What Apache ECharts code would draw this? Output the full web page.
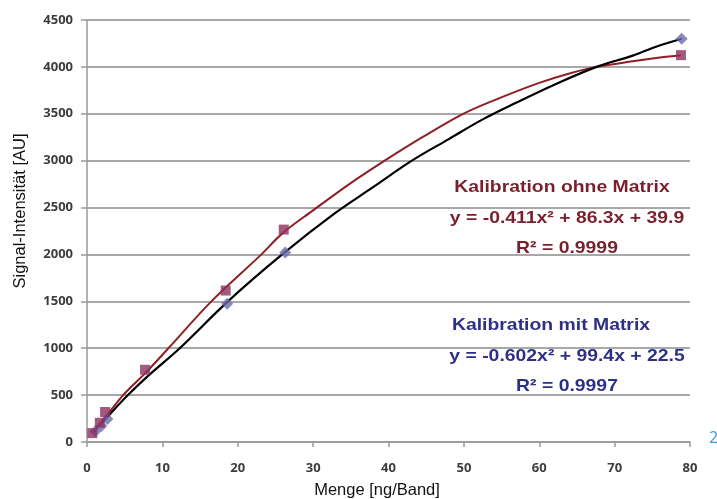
<!DOCTYPE html>
<html>
<head>
<meta charset="utf-8">
<script src="https://cdn.jsdelivr.net/npm/echarts@6/dist/echarts.min.js"></script>
<style>
  html, body { margin: 0; padding: 0; background: #ffffff; }
  #chart { width: 717px; height: 499px; }
</style>
</head>
<body>
<div id="chart"></div>
<script>
// Calibration curves: amount (ng/band) vs. signal intensity (AU)
const yTicks = [0, 500, 1000, 1500, 2000, 2500, 3000, 3500, 4000, 4500];
const xTicks = [0, 10, 20, 30, 40, 50, 60, 70, 80];

// Measured standards without matrix (squares)
const ohneMengen  = [0.7, 1.7, 2.4, 7.7, 18.4, 26.1, 78.8];
const ohneSignale = [95, 205, 320, 770, 1615, 2265, 4125];

// Measured standards with matrix (diamonds)
const mitMengen  = [1.1, 1.9, 2.7, 18.6, 26.3, 78.9];
const mitSignale = [115, 170, 245, 1475, 2020, 4300];

// Fitted calibration curve, red trace
const rotMengen  = [0.8, 2.5, 4.8, 7.8, 10.8, 16.5, 23.0, 26.0, 30.0, 34.8, 39.5, 44.5, 49.9, 54.8, 60.0, 64.0, 67.6, 72.4, 76.0, 78.8];
const rotSignale = [100, 270, 500, 740, 1000, 1500, 1990, 2230, 2470, 2750, 3000, 3250, 3500, 3670, 3830, 3930, 4000, 4060, 4100, 4125];

// Fitted calibration curve, black trace
const schwarzMengen  = [0.9, 2.5, 5.3, 8.1, 12.3, 18.7, 25.9, 32.9, 38.0, 43.1, 48.0, 52.5, 57.0, 62.0, 67.6, 72.4, 75.5, 78.9];
const schwarzSignale = [110, 250, 490, 705, 1000, 1500, 2000, 2440, 2720, 3000, 3230, 3440, 3620, 3810, 4000, 4120, 4215, 4300];

const xTitle = 'Menge [ng/Band]';
const yTitle = 'Signal-Intensität [AU]';

const pairs = (xs, ys) => xs.map((x, i) => [x, ys[i]]);

const labelFont = { fontFamily: 'Open Sans', fontWeight: 700, fontSize: 13, color: '#3c3c3c' };
const redText = '#7b1f2c';
const blueText = '#2e2f86';
const annoFont = 'bold 17px "Liberation Sans"';

function anno(text, x, y, color) {
  return {
    type: 'text', x: x, y: y, z: 10, scaleX: 1.14, scaleY: 1,
    style: { text: text, fill: color, font: annoFont, textAlign: 'center', textVerticalAlign: 'middle' }
  };
}

const chart = echarts.init(document.getElementById('chart'), null, { renderer: 'canvas' });
chart.setOption({
  animation: false,
  backgroundColor: '#ffffff',
  grid: { left: 87, right: 27, top: 20, bottom: 57, containLabel: false },
  xAxis: {
    type: 'value',
    min: xTicks[0], max: xTicks[xTicks.length - 1], interval: 10,
    axisLine: { show: true, lineStyle: { color: '#9a9a9a', width: 1.5 } },
    axisTick: { show: true, length: 5, lineStyle: { color: '#9a9a9a', width: 1.5 } },
    axisLabel: Object.assign({ margin: 20, formatter: v => String(v) }, labelFont),
    splitLine: { show: false }
  },
  yAxis: {
    type: 'value',
    min: yTicks[0], max: yTicks[yTicks.length - 1], interval: 500,
    axisLine: { show: true, lineStyle: { color: '#9a9a9a', width: 1.5 } },
    axisTick: { show: true, length: 6, lineStyle: { color: '#9a9a9a', width: 1.5 } },
    axisLabel: Object.assign({ margin: 14, formatter: v => String(v) }, labelFont),
    splitLine: { show: true, lineStyle: { color: '#a8a8a8', width: 2 } }
  },
  series: [
    {
      name: 'Kurve ohne Matrix', type: 'line', smooth: 0.35, showSymbol: false,
      data: pairs(rotMengen, rotSignale),
      lineStyle: { color: '#8e1f25', width: 2 }, z: 3
    },
    {
      name: 'Kurve mit Matrix', type: 'line', smooth: 0.35, showSymbol: false,
      data: pairs(schwarzMengen, schwarzSignale),
      lineStyle: { color: '#000000', width: 2.2 }, z: 3
    },
    {
      name: 'Standards mit Matrix', type: 'scatter', symbol: 'diamond', symbolSize: 12,
      data: pairs(mitMengen, mitSignale),
      itemStyle: { color: '#6c6cae' }, z: 4
    },
    {
      name: 'Standards ohne Matrix', type: 'scatter', symbol: 'rect', symbolSize: 10,
      data: pairs(ohneMengen, ohneSignale),
      itemStyle: { color: '#8d2f5e' }, z: 5
    }
  ],
  graphic: [
    // axis titles
    { type: 'text', x: 377, y: 490, z: 10,
      style: { text: xTitle, fill: '#111', font: '16.5px "Liberation Sans"', textAlign: 'center', textVerticalAlign: 'middle' } },
    { type: 'text', x: 20, y: 211, z: 10, rotation: Math.PI / 2,
      style: { text: yTitle, fill: '#111', font: '16.5px "Liberation Sans"', textAlign: 'center', textVerticalAlign: 'middle' } },
    // regression annotations
    anno('Kalibration ohne Matrix', 562, 187, redText),
    anno('y = -0.411x² + 86.3x + 39.9', 567, 218, redText),
    anno('R² = 0.9999', 567, 248, redText),
    anno('Kalibration mit Matrix', 551, 325, blueText),
    anno('y = -0.602x² + 99.4x + 22.5', 567, 356, blueText),
    anno('R² = 0.9997', 567, 386, blueText),
    { type: 'text', x: 709, y: 438, z: 10, style: { text: '2', fill: '#3a9ad9', font: '16px "Open Sans"', textAlign: 'left', textVerticalAlign: 'middle' } }
  ]
});
</script>
</body>
</html>
